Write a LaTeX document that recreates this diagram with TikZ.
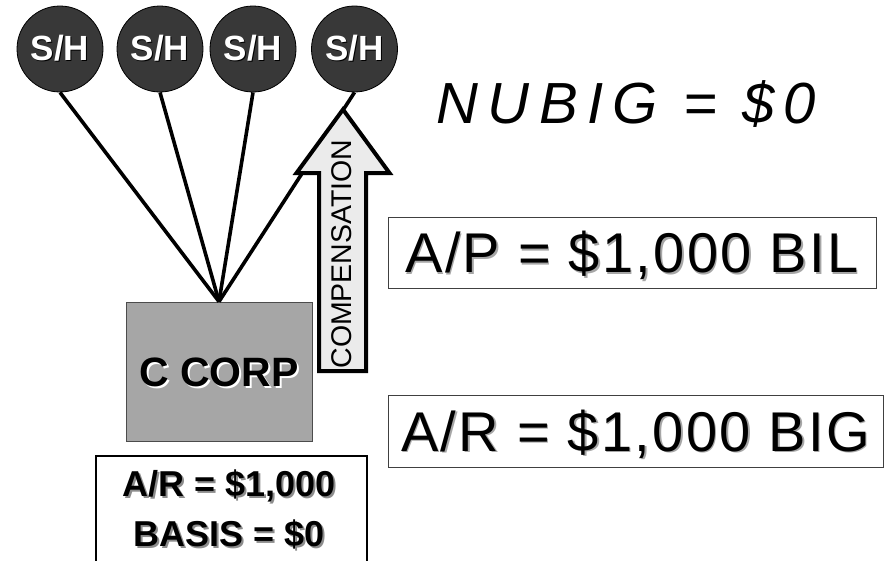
\documentclass[tikz,border=0pt]{standalone}
\usepackage{fontspec}
\setmainfont{Liberation Sans}
\definecolor{holderfill}{HTML}{383838}
\definecolor{corpfill}{HTML}{A6A6A6}
\definecolor{arrowfill}{HTML}{EBEBEB}
% text with a drop shadow: #1 shadow colour, #2 offset, #3 text
\newcommand{\dropshadow}[3]{\makebox[0pt][l]{\hspace*{#2}\raisebox{-#2}{\textcolor{#1}{#3}}}#3}
\begin{document}
\begin{tikzpicture}[x=1pt,y=-1pt,
  holder/.style={circle, draw=black, line width=0.8pt, fill=holderfill,
    minimum size=86pt, inner sep=0pt, text=white,
    font=\fontsize{35}{35}\selectfont\bfseries},
  link/.style={line width=3.6pt, draw=black},
  corpbox/.style={rectangle, draw=black!70, line width=0.8pt, fill=corpfill,
    minimum width=186pt, minimum height=139pt, inner sep=0pt,
    text height=30pt, text depth=0pt,
    font=\fontsize{41}{41}\selectfont\bfseries},
  valbox/.style={rectangle, draw=black!75, line width=1pt, fill=white,
    inner sep=0pt, text height=40pt, text depth=0pt,
    font=\fontsize{56}{56}\selectfont\addfontfeature{LetterSpace=4.2}},
  basisbox/.style={rectangle, draw=black, line width=2pt, fill=white,
    minimum width=271pt, minimum height=135pt, inner sep=0pt},
  basistext/.style={align=center, inner sep=0pt,
    font=\fontsize{36}{50}\selectfont\bfseries},
  flowarrow/.style={draw=black, line width=4pt, fill=arrowfill, line join=miter},
]
\useasboundingbox (0,0) rectangle (888,560);

% shareholders
\node[holder] (sh1) at (60,49)    {\dropshadow{black}{1pt}{S/H}};
\node[holder] (sh2) at (160,49)   {\dropshadow{black}{1pt}{S/H}};
\node[holder] (sh3) at (253,49)   {\dropshadow{black}{1pt}{S/H}};
\node[holder] (sh4) at (354.5,49) {\dropshadow{black}{1pt}{S/H}};

% the corporation
\node[corpbox] (corp) at (219,371.5) {\dropshadow{white}{2pt}{C CORP}};

% ownership lines
\foreach \s in {sh1,sh2,sh3,sh4}
  \draw[link] (\s.south) -- (corp.north);

% compensation arrow
\coordinate (tip) at (343,109.5);
\draw[flowarrow] (tip) -- (389.5,173) -- (366,173) -- (366,371) -- (319,371)
  -- (319,173) -- (296.5,173) -- cycle;
\node[rotate=90, inner sep=0pt, font=\fontsize{28.5}{28}\selectfont] (comp)
  at (342,254) {COMPENSATION};

% built-in gain and loss
\node[inner sep=0pt, anchor=base,
  font=\fontsize{58}{58}\selectfont\itshape\addfontfeature{LetterSpace=16}]
  (nubig) at (626.5,123) {NUBIG = \$0};
\node[valbox, minimum width=488pt, minimum height=71pt] (ap) at (632,252.5)
  {\dropshadow{black!35}{1.5pt}{A/P = \$1,000 BIL}};
\node[valbox, minimum width=495pt, minimum height=72pt] (ar) at (635.5,431)
  {\dropshadow{black!35}{1.5pt}{A/R = \$1,000 BIG}};

% receivable held by the corporation
\node[basisbox, anchor=north west] (basis) at (95,455) {};
\node[basistext] (basistxt) at (229,510)
  {\dropshadow{black!45}{2pt}{A/R = \$1,000}\\ \dropshadow{black!45}{2pt}{BASIS = \$0}};
\end{tikzpicture}
\end{document}
